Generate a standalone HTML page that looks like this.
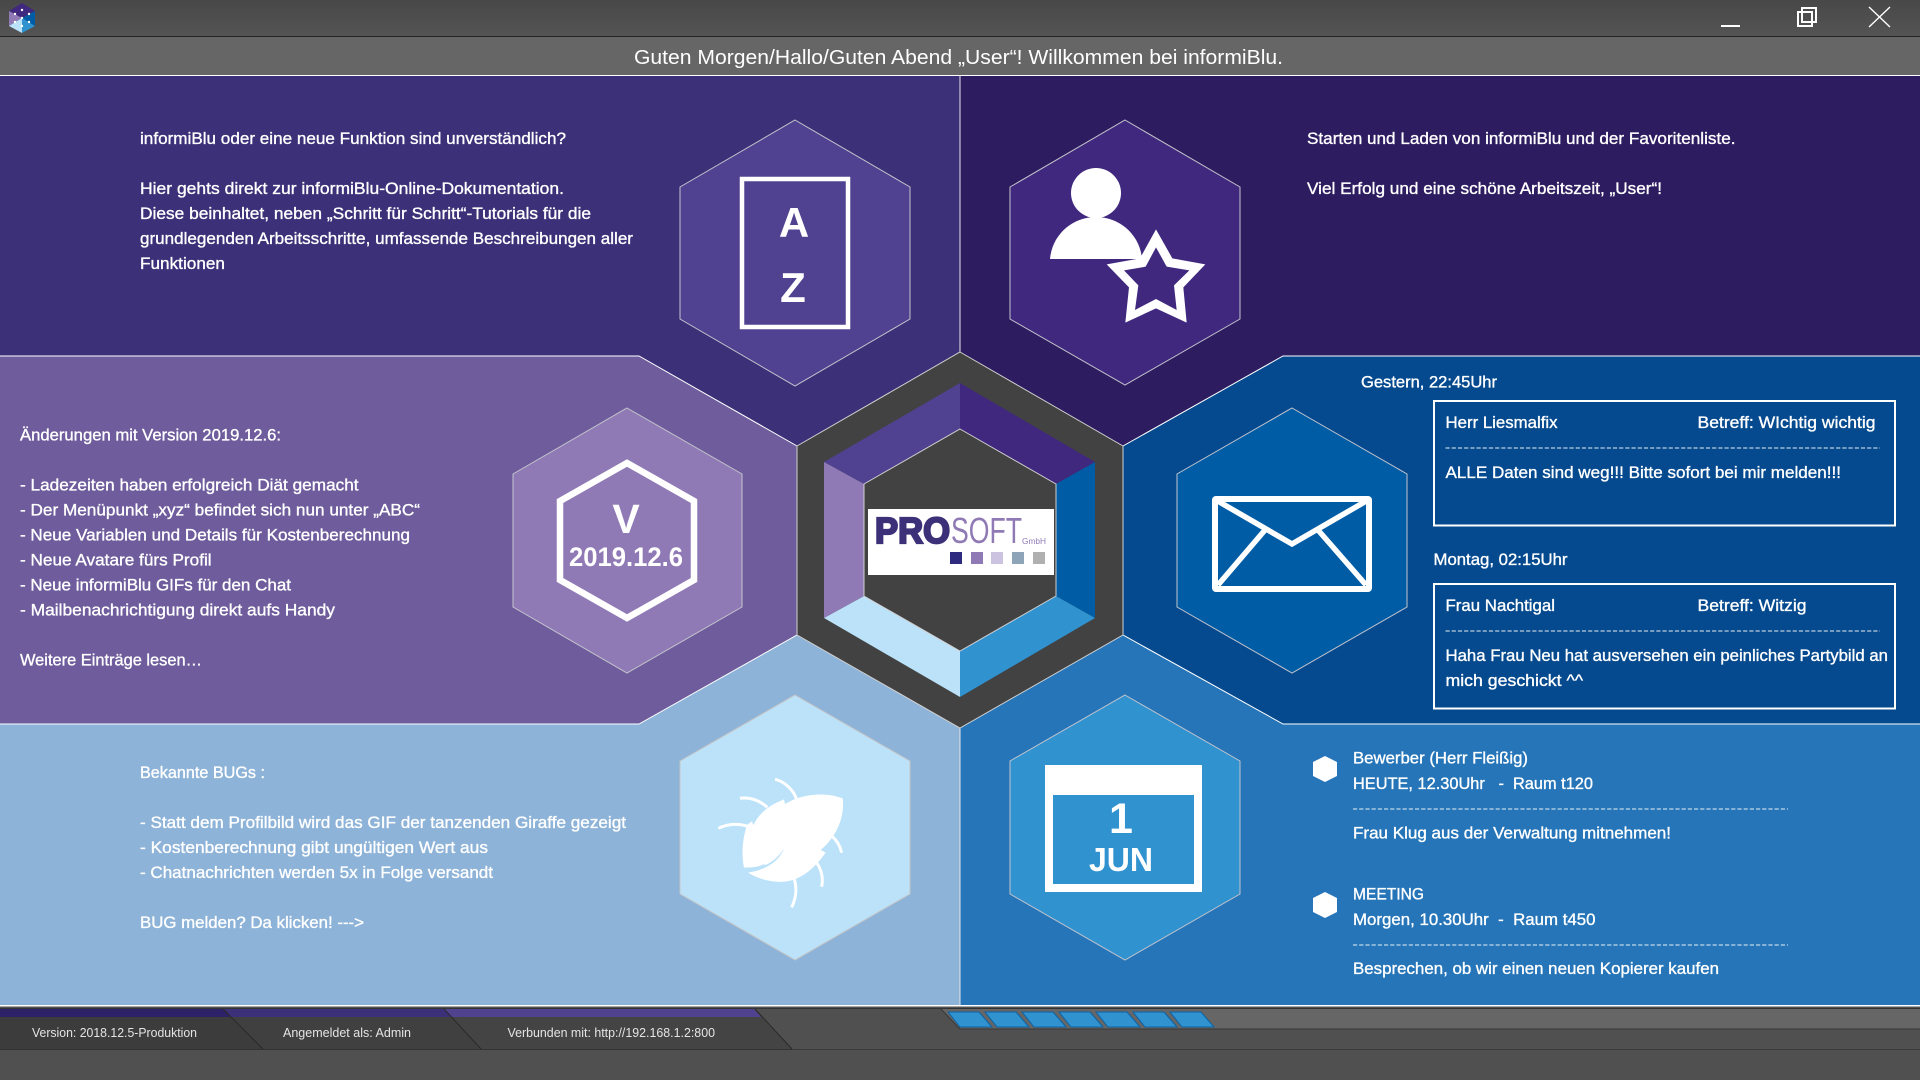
<!DOCTYPE html>
<html lang="de"><head><meta charset="utf-8"><title>informiBlu</title>
<style>
html,body{margin:0;padding:0;background:#505050;width:1920px;height:1080px;overflow:hidden}
svg{display:block;position:absolute;left:0;top:0}
text{font-family:"Liberation Sans",sans-serif;fill:#fff;white-space:pre}
.t{font-size:17px;stroke:#fff;stroke-width:.35px;}
.f{font-size:13px;fill:#e4e4e4}
.b{font-weight:bold}
</style></head><body>
<svg width="1920" height="1080" viewBox="0 0 1920 1080" xmlns="http://www.w3.org/2000/svg">
<defs>
<linearGradient id="tb" x1="0" y1="0" x2="0" y2="1"><stop offset="0" stop-color="#484848"/><stop offset="1" stop-color="#545454"/></linearGradient>
</defs>
<!-- title bars -->
<rect x="0" y="0" width="1920" height="36" fill="url(#tb)"/>
<rect x="0" y="36" width="1920" height="1" fill="#222"/>
<rect x="0" y="37" width="1920" height="38" fill="#666"/>
<rect x="0" y="75" width="1920" height="1" fill="#fff"/>
<text x="634" y="64" font-size="20" textLength="649" lengthAdjust="spacingAndGlyphs" fill="#f4f4f4">Guten Morgen/Hallo/Guten Abend „User“! Willkommen bei informiBlu.</text>
<!-- window controls -->
<rect x="1721" y="25" width="19" height="2" fill="#fff"/>
<rect x="1802" y="8" width="14" height="14" fill="none" stroke="#fff" stroke-width="2"/>
<rect x="1798" y="12" width="14" height="14" fill="none" stroke="#fff" stroke-width="2"/>
<path d="M1869 7 L1890 27 M1890 7 L1869 27" stroke="#fff" stroke-width="1.4" fill="none"/>
<!-- app icon -->
<polygon points="22,3 35,11 22,18 9,11" fill="#40287e"/>
<polygon points="9,11 22,18 22,18 9,26" fill="#8f7ab5"/>
<polygon points="35,11 35,26 22,18" fill="#005ca5"/>
<polygon points="9,26 22,18 22,33" fill="#bbe2f9"/>
<polygon points="35,26 22,18 22,33" fill="#3192d0"/>
<circle cx="22" cy="10" r="1.2" fill="#fff"/><circle cx="15" cy="14" r="1.2" fill="#fff"/><circle cx="29" cy="14" r="1.2" fill="#fff"/><circle cx="15" cy="22" r="1.2" fill="#fff"/><circle cx="29" cy="22" r="1.2" fill="#fff"/><circle cx="22" cy="26" r="1.2" fill="#fff"/><circle cx="22" cy="18" r="1.2" fill="#fff"/>

<!-- panels -->
<polygon points="0,76 960,76 960,352 797,446 639,356 0,356" fill="#3c3078"/>
<polygon points="960,76 1920,76 1920,356 1283,356 1123,446 960,352" fill="#2d1c60"/>
<polygon points="0,1005 0,724 639,724 797,635 960,728 960,1005" fill="#8eb3d8"/>
<polygon points="960,1005 960,728 1123,635 1283,724 1920,724 1920,1005" fill="#2575b8"/>
<polygon points="0,356 639,356 797,446 797,635 639,724 0,724" fill="#6e5c9c"/>
<polyline points="0,356 639,356 797,446 797,635 639,724 0,724" fill="none" stroke="#fff" stroke-width="1"/>
<polygon points="1920,356 1283,356 1123,446 1123,635 1283,724 1920,724" fill="#054a8f"/>
<polyline points="1920,356 1283,356 1123,446 1123,635 1283,724 1920,724" fill="none" stroke="#fff" stroke-width="1"/>
<line x1="960" y1="76" x2="960" y2="352" stroke="#e8e8e8" stroke-width="1"/>
<line x1="960" y1="728" x2="960" y2="1005" stroke="#e8e8e8" stroke-width="1"/>

<!-- side hexes -->
<polygon points="795,120 910,187 910,319 795,386 680,319 680,187" fill="#504290" stroke="#c4c4cc" stroke-width="1"/>
<polygon points="1125,120 1240,187 1240,319 1125,385 1010,319 1010,187" fill="#40287e" stroke="#c4c4cc" stroke-width="1"/>
<polygon points="627,408 742,474 742,607 627,673 513,607 513,474" fill="#8f7ab5" stroke="#c4c4cc" stroke-width="1"/>
<polygon points="1292,408 1407,474 1407,607 1292,673 1177,607 1177,474" fill="#005ca5" stroke="#c4c4cc" stroke-width="1"/>
<polygon points="795,695 910,761 910,894 795,960 680,894 680,761" fill="#bbe2f9" stroke="#c4c4c4" stroke-width="1"/>
<polygon points="1125,695 1240,761 1240,894 1125,960 1010,894 1010,761" fill="#3192d0" stroke="#c4c4cc" stroke-width="1"/>

<!-- A-Z icon -->
<rect x="742" y="179" width="106" height="148" fill="none" stroke="#fff" stroke-width="4.5"/>
<text x="794" y="237" font-size="42" class="b" text-anchor="middle">A</text>
<text x="793" y="302" font-size="42" class="b" text-anchor="middle">Z</text>

<!-- person star icon -->
<circle cx="1096" cy="193" r="25" fill="#fff"/>
<path d="M1050 259 C1052 235 1072 217 1096 217 C1120 217 1140 235 1142 259 Z" fill="#fff"/>
<g transform="translate(1000,100) scale(.33333)">
<polygon points="468,388 517,475 616,493 550,562 560,668 468,625 376,668 387,562 320,493 420,475" fill="#fff"/>
<polygon points="468,442 500,500 568,511 522,556 530,630 468,597 405,630 415,556 372,511 437,500" fill="#40287e"/>
</g>

<!-- V icon -->
<polygon points="627,463 694,501 694,580 627,618 560,580 560,501" fill="none" stroke="#fff" stroke-width="6.5"/>
<text x="626" y="533" font-size="41" class="b" text-anchor="middle">V</text>
<text x="569" y="566" font-size="27" class="b" textLength="114" lengthAdjust="spacingAndGlyphs">2019.12.6</text>

<!-- mail icon -->
<rect x="1215" y="499" width="154" height="90" fill="none" stroke="#fff" stroke-width="6" rx="1" stroke-linejoin="round"/>
<path d="M1216 500 L1292 544 L1368 500 M1265 530 L1218 585 M1318 530 L1366 585" fill="none" stroke="#fff" stroke-width="5.5"/>

<!-- bug icon -->
<g transform="translate(660,680) scale(.33333)">
<path fill="#fff" d="M548,355 C480,330 410,350 375,372 L372,358 C320,378 295,405 280,435 L276,424 L262,434 C245,480 245,530 252,563 C275,563 300,560 312,552 L314,556 C340,545 360,525 372,505 C360,540 320,570 264,578 C300,600 340,608 375,605 C420,600 460,570 497,518 L482,510 C530,470 555,410 548,355 Z"/>
<path fill="none" stroke="#fff" stroke-width="9" d="M345,298 C375,305 400,330 410,358 M240,355 C270,350 300,362 322,382 M175,445 C205,430 240,430 265,440 M515,468 C530,480 540,497 545,518 M470,548 C485,570 490,595 485,620 M400,590 C412,620 410,650 395,682"/>
</g>

<!-- calendar icon -->
<rect x="1045" y="765" width="157" height="127" fill="#fff"/>
<rect x="1053" y="795" width="141" height="89" fill="#3192d0"/>
<text x="1121" y="833" font-size="43" class="b" text-anchor="middle">1</text>
<text x="1089" y="871" font-size="33" class="b" textLength="64" lengthAdjust="spacingAndGlyphs">JUN</text>

<!-- center hex -->
<polygon points="960,352 1123,446 1123,635 960,728 797,635 797,446" fill="#424242" stroke="#d0d0d0" stroke-width="1"/>
<polygon points="960,383 824,462 864,484 960,429" fill="#504290"/>
<polygon points="960,383 1095,462 1056,484 960,429" fill="#40287e"/>
<polygon points="1095,462 1095,618 1056,596 1056,484" fill="#005ca5"/>
<polygon points="1095,618 960,697 960,651 1056,596" fill="#3192d0"/>
<polygon points="824,618 960,697 960,651 864,596" fill="#bbe2f9"/>
<polygon points="824,462 824,618 864,596 864,484" fill="#8f7ab5"/>
<polygon points="960,429 1056,484 1056,596 960,651 864,596 864,484" fill="#424242" stroke="#d0d0d0" stroke-width="1"/>
<!-- logo -->
<rect x="868" y="509" width="186" height="66" fill="#fff"/>
<text x="875" y="543" font-size="36" font-weight="bold" style="fill:#3c3078;stroke:#3c3078;stroke-width:2.2px" textLength="75" lengthAdjust="spacingAndGlyphs">PRO</text>
<text x="951" y="543" font-size="36" style="fill:#8f7ab5" textLength="71" lengthAdjust="spacingAndGlyphs">SOFT</text>
<text x="1022" y="544" font-size="8" style="fill:#8f7ab5" textLength="24" lengthAdjust="spacingAndGlyphs">GmbH</text>
<rect x="950" y="552" width="12" height="12" fill="#2d2a7f"/>
<rect x="971" y="552" width="12" height="12" fill="#8f7ab5"/>
<rect x="991" y="552" width="12" height="12" fill="#cbc3e0"/>
<rect x="1012" y="552" width="12" height="12" fill="#8da4b9"/>
<rect x="1033" y="552" width="12" height="12" fill="#b0b0b0"/>

<!-- top-left text -->
<text class="t" x="140" y="144" textLength="426" lengthAdjust="spacingAndGlyphs">informiBlu oder eine neue Funktion sind unverständlich?</text>
<text class="t" x="140" y="194" textLength="424" lengthAdjust="spacingAndGlyphs">Hier gehts direkt zur informiBlu-Online-Dokumentation.</text>
<text class="t" x="140" y="219" textLength="451" lengthAdjust="spacingAndGlyphs">Diese beinhaltet, neben „Schritt für Schritt“-Tutorials für die</text>
<text class="t" x="140" y="244" textLength="493" lengthAdjust="spacingAndGlyphs">grundlegenden Arbeitsschritte, umfassende Beschreibungen aller</text>
<text class="t" x="140" y="269" textLength="85" lengthAdjust="spacingAndGlyphs">Funktionen</text>
<!-- top-right -->
<text class="t" x="1307" y="144" textLength="428.5" lengthAdjust="spacingAndGlyphs">Starten und Laden von informiBlu und der Favoritenliste.</text>
<text class="t" x="1307" y="194" textLength="355" lengthAdjust="spacingAndGlyphs">Viel Erfolg und eine schöne Arbeitszeit, „User“!</text>
<!-- mid-left -->
<text class="t" x="20" y="440.5" textLength="261" lengthAdjust="spacingAndGlyphs">Änderungen mit Version 2019.12.6:</text>
<text class="t" x="20" y="490.5" textLength="338.6" lengthAdjust="spacingAndGlyphs">- Ladezeiten haben erfolgreich Diät gemacht</text>
<text class="t" x="20" y="515.5" textLength="400" lengthAdjust="spacingAndGlyphs">- Der Menüpunkt „xyz“ befindet sich nun unter „ABC“</text>
<text class="t" x="20" y="540.5" textLength="390" lengthAdjust="spacingAndGlyphs">- Neue Variablen und Details für Kostenberechnung</text>
<text class="t" x="20" y="565.5" textLength="191.6" lengthAdjust="spacingAndGlyphs">- Neue Avatare fürs Profil</text>
<text class="t" x="20" y="590.5" textLength="271" lengthAdjust="spacingAndGlyphs">- Neue informiBlu GIFs für den Chat</text>
<text class="t" x="20" y="615.5" textLength="315" lengthAdjust="spacingAndGlyphs">- Mailbenachrichtigung direkt aufs Handy</text>
<text class="t" x="20" y="665.5" textLength="182" lengthAdjust="spacingAndGlyphs">Weitere Einträge lesen…</text>
<!-- bottom-left -->
<text class="t" x="140" y="778" textLength="125" lengthAdjust="spacingAndGlyphs">Bekannte BUGs :</text>
<text class="t" x="140" y="828" textLength="486" lengthAdjust="spacingAndGlyphs">- Statt dem Profilbild wird das GIF der tanzenden Giraffe gezeigt</text>
<text class="t" x="140" y="853" textLength="348" lengthAdjust="spacingAndGlyphs">- Kostenberechnung gibt ungültigen Wert aus</text>
<text class="t" x="140" y="878" textLength="353" lengthAdjust="spacingAndGlyphs">- Chatnachrichten werden 5x in Folge versandt</text>
<text class="t" x="140" y="928" textLength="224" lengthAdjust="spacingAndGlyphs">BUG melden? Da klicken! ---&gt;</text>
<!-- mail -->
<text class="t" x="1361" y="387.5" textLength="136" lengthAdjust="spacingAndGlyphs">Gestern, 22:45Uhr</text>
<text class="t" x="1433.5" y="565" textLength="134" lengthAdjust="spacingAndGlyphs">Montag, 02:15Uhr</text>
<text class="t" x="1445.5" y="428" textLength="112" lengthAdjust="spacingAndGlyphs">Herr Liesmalfix</text>
<text class="t" x="1697.5" y="428" textLength="178" lengthAdjust="spacingAndGlyphs">Betreff: WIchtig wichtig</text>
<text class="t" x="1445.5" y="478" textLength="395.5" lengthAdjust="spacingAndGlyphs">ALLE Daten sind weg!!! Bitte sofort bei mir melden!!!</text>
<text class="t" x="1445.5" y="611" textLength="109.5" lengthAdjust="spacingAndGlyphs">Frau Nachtigal</text>
<text class="t" x="1697.5" y="611" textLength="109" lengthAdjust="spacingAndGlyphs">Betreff: Witzig</text>
<text class="t" x="1445.5" y="661" textLength="442.5" lengthAdjust="spacingAndGlyphs">Haha Frau Neu hat ausversehen ein peinliches Partybild an</text>
<text class="t" x="1445.5" y="686" textLength="137.6" lengthAdjust="spacingAndGlyphs">mich geschickt ^^</text>
<!-- calendar text -->
<text class="t" x="1353" y="763.5" textLength="175" lengthAdjust="spacingAndGlyphs">Bewerber (Herr Fleißig)</text>
<text class="t" x="1353" y="789" textLength="240" lengthAdjust="spacingAndGlyphs">HEUTE, 12.30Uhr   -  Raum t120</text>
<text class="t" x="1353" y="838.5" textLength="318" lengthAdjust="spacingAndGlyphs">Frau Klug aus der Verwaltung mitnehmen!</text>
<text class="t" x="1353" y="899.5" textLength="71" lengthAdjust="spacingAndGlyphs">MEETING</text>
<text class="t" x="1353" y="925" textLength="242.5" lengthAdjust="spacingAndGlyphs">Morgen, 10.30Uhr  -  Raum t450</text>
<text class="t" x="1353" y="974" textLength="366" lengthAdjust="spacingAndGlyphs">Besprechen, ob wir einen neuen Kopierer kaufen</text>
<rect x="1434" y="401" width="461" height="124.5" fill="none" stroke="#fff" stroke-width="2"/>
<rect x="1434" y="584" width="461" height="124.5" fill="none" stroke="#fff" stroke-width="2"/>
<g stroke="#fff" stroke-width="1" stroke-dasharray="4.2 2" opacity=".9">
<line x1="1445.5" y1="448" x2="1880" y2="448"/>
<line x1="1445.5" y1="631" x2="1880" y2="631"/>
<line x1="1353" y1="809" x2="1788" y2="809"/>
<line x1="1353" y1="945" x2="1788" y2="945"/>
</g>
<polygon points="1325,756 1337,762 1337,776 1325,782 1313,776 1313,762" fill="#fff"/>
<polygon points="1325,892 1337,898 1337,912 1325,918 1313,912 1313,898" fill="#fff"/>

<!-- footer -->
<rect x="0" y="1006" width="1920" height="74" fill="#505050"/>
<rect x="0" y="1005" width="1920" height="1.5" fill="#fff"/>
<rect x="0" y="1008" width="1920" height="1" fill="#333"/>
<polygon points="941,1009 1920,1009 1920,1029 960,1029" fill="#666"/>
<path d="M941 1009 L960 1029 L1920 1029" fill="none" stroke="#383838" stroke-width="1"/>
<rect x="0" y="1049" width="792" height="1" fill="#333"/>
<rect x="792" y="1049" width="1128" height="1" fill="#3a3a3a"/>
<polygon points="0,1009 755,1009 792,1049 0,1049" fill="#3c3c3c"/>
<polygon points="223,1009 263,1049 481,1049 444,1009" fill="#404040"/>
<polygon points="444,1009 481,1049 792,1049 755,1009" fill="#444"/>
<polygon points="0,1009 224,1009 230,1017 0,1017" fill="#2d2168"/>
<polygon points="224,1009 444,1009 451,1017 231,1017" fill="#3c3078"/>
<polygon points="444,1009 754,1009 761,1017 451,1017" fill="#50428f"/>
<path d="M223 1009 L263 1049 M444 1009 L481 1049 M755 1009 L792 1049" stroke="#2a2a2a" stroke-width="1" fill="none"/>
<g fill="#3192d0" stroke="#0c63a5" stroke-width="1">
<polygon points="948,1012 979,1012 992,1027 960,1027"/>
<polygon points="985,1012 1016,1012 1029,1027 997,1027"/>
<polygon points="1022,1012 1053,1012 1066,1027 1034,1027"/>
<polygon points="1059,1012 1090,1012 1103,1027 1071,1027"/>
<polygon points="1096,1012 1127,1012 1140,1027 1108,1027"/>
<polygon points="1133,1012 1164,1012 1177,1027 1145,1027"/>
<polygon points="1170,1012 1201,1012 1214,1027 1182,1027"/>
</g>
<text class="f" x="32" y="1037" textLength="165" lengthAdjust="spacingAndGlyphs">Version: 2018.12.5-Produktion</text>
<text class="f" x="283" y="1037" textLength="128" lengthAdjust="spacingAndGlyphs">Angemeldet als: Admin</text>
<text class="f" x="507.5" y="1037" textLength="207.5" lengthAdjust="spacingAndGlyphs">Verbunden mit: http://192.168.1.2:800</text>
</svg>
</body></html>
